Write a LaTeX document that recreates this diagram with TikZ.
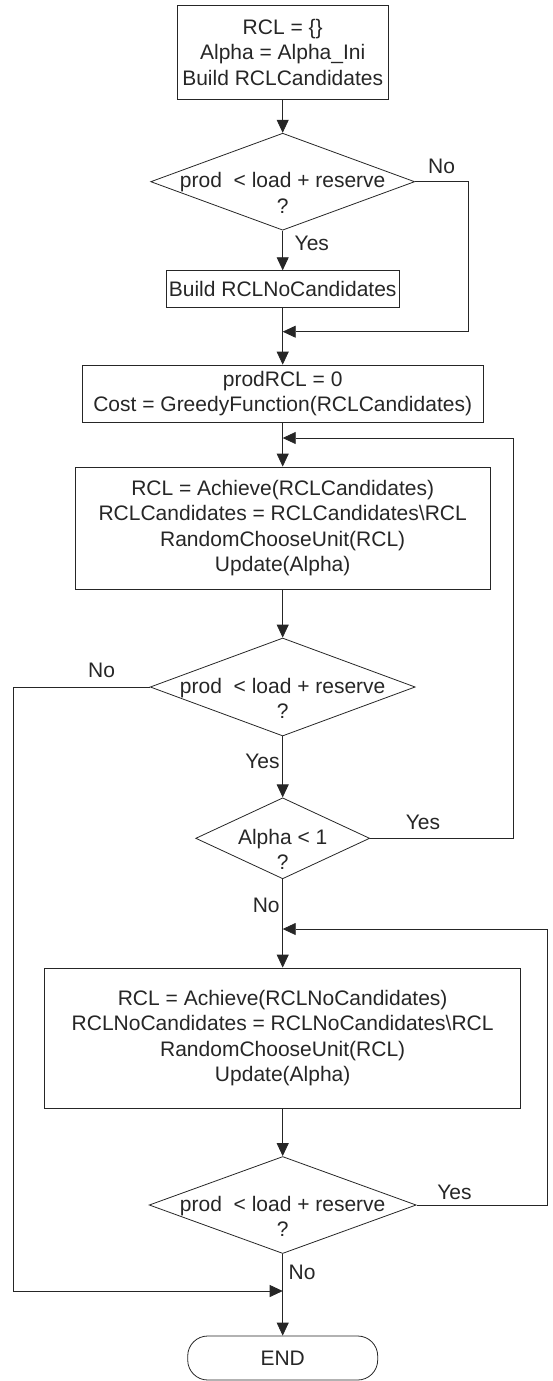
\documentclass[tikz,border=0pt]{standalone}
\usepackage{fontspec}
\setmainfont{Liberation Sans}
\usetikzlibrary{shapes.geometric,arrows.meta,positioning}

\newcommand{\decisiontext}[2]{\begin{tabular}[t]{@{}c@{}}#1\\#2\end{tabular}}

\begin{document}
\begin{tikzpicture}[x=1pt, y=1pt, line width=0.8pt, color=black!85,
    font=\fontsize{21}{25.5}\selectfont,
    box/.style={rectangle, draw, align=center, inner sep=0pt},
    decision/.style={diamond, draw, inner sep=0pt, aspect=2.7, text height=12pt, text depth=0pt},
    terminal/.style={rectangle, rounded corners=20pt, draw, inner sep=0pt},
    lbl/.style={inner sep=0pt},
    arrow/.style={->, >={Triangle[length=13pt, width=12pt]}}]

    \useasboundingbox (0,0) rectangle (552,-1381);

    \node[box, minimum width=211pt, minimum height=94pt] (init) at (282.7,-52.3) {RCL = \{\}\\Alpha = Alpha\_Ini\\Build RCLCandidates};
    \node[decision, node distance=129.4pt, below of=init, minimum width=264pt, minimum height=97pt] (test1) {\decisiontext{prod\ \ < load + reserve}{?}};
    \node[box, node distance=107.3pt, below of=test1, minimum width=233.6pt, minimum height=36.6pt] (buildno) {Build RCLNoCandidates};
    \node[box, node distance=104.7pt, below of=buildno, minimum width=400.7pt, minimum height=57.3pt] (greedy) {prodRCL = 0\\Cost = GreedyFunction(RCLCandidates)};
    \node[box, node distance=134.3pt, below of=greedy, minimum width=415.5pt, minimum height=122pt] (achieve) {RCL = Achieve(RCLCandidates)\\RCLCandidates = RCLCandidates\textbackslash RCL\\RandomChooseUnit(RCL)\\Update(Alpha)};
    \node[decision, node distance=159pt, below of=achieve, minimum width=265pt, minimum height=98pt] (test2) {\decisiontext{prod\ \ < load + reserve}{?}};
    \node[decision, node distance=151.3pt, below of=test2, minimum width=174pt, minimum height=81pt] (alpha) {\decisiontext{Alpha < 1}{?}};
    \node[box, node distance=199.7pt, below of=alpha, minimum width=476pt, minimum height=140pt] (achieveno) {RCL = Achieve(RCLNoCandidates)\\RCLNoCandidates = RCLNoCandidates\textbackslash RCL\\RandomChooseUnit(RCL)\\Update(Alpha)};
    \node[decision, node distance=167pt, below of=achieveno, minimum width=267pt, minimum height=97pt] (test3) {\decisiontext{prod\ \ < load + reserve}{?}};
    \node[terminal, node distance=153pt, below of=test3, minimum width=190pt, minimum height=44pt] (stop) {END};

    \coordinate[node distance=42.7pt, below of=buildno] (join1);
    \coordinate[node distance=44.3pt, below of=greedy] (join2);
    \coordinate[node distance=90.7pt, below of=alpha] (join3);
    \coordinate[node distance=86pt, below of=test3] (join4);

    \draw[arrow] (init) -- (test1);
    \draw[arrow] (test1) -- node[lbl, right=11.6pt, pos=0.33] {Yes} (buildno);
    \draw[arrow] (test1.east) -- node[lbl, above=8pt] {No} ++(53,0) |- (join1);
    \draw[arrow] (buildno) -- (greedy);
    \draw[arrow] (greedy) -- (achieve);
    \draw[arrow] (achieve) -- (test2);
    \draw[arrow] (test2) -- node[lbl, left=2.7pt, pos=0.41] {Yes} (alpha);
    \draw[arrow] (test2.west) -- node[lbl, above=8.5pt, pos=0.355] {No} ++(-136,0) |- (join4);
    \draw[arrow] (alpha.east) -- node[lbl, above=8pt, pos=0.37] {Yes} ++(143,0) |- (join2);
    \draw[arrow] (alpha) -- node[lbl, left=2.7pt, pos=0.3] {No} (achieveno);
    \draw[arrow] (achieveno) -- (test3);
    \draw[arrow] (test3.east) -- node[lbl, above=5pt, pos=0.29] {Yes} ++(130.5,0) |- (join3);
    \draw[arrow] (test3) -- node[lbl, right=5.6pt, pos=0.22] {No} (stop);
\end{tikzpicture}
\end{document}
